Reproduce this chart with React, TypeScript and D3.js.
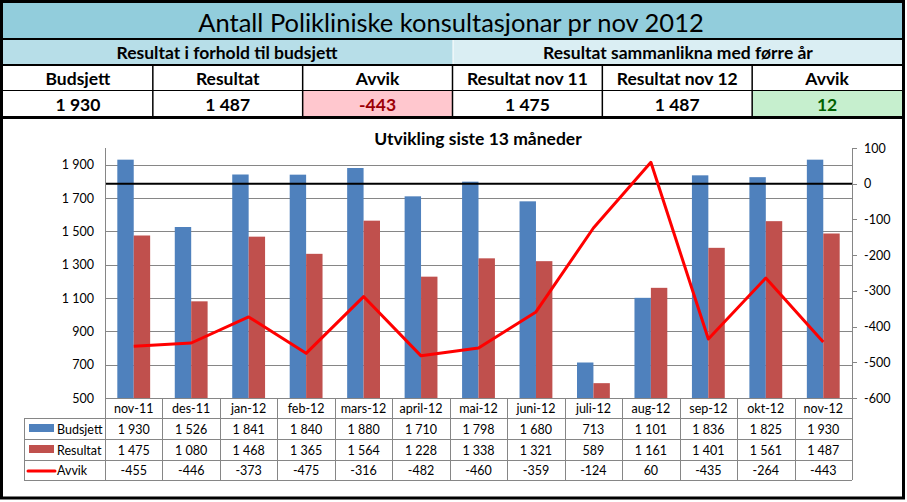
import * as d3 from 'd3'

const categories = ['nov-11', 'des-11', 'jan-12', 'feb-12', 'mars-12', 'april-12', 'mai-12', 'juni-12', 'juli-12', 'aug-12', 'sep-12', 'okt-12', 'nov-12']
const budsjett = [1930, 1526, 1841, 1840, 1880, 1710, 1798, 1680, 713, 1101, 1836, 1825, 1930]
const resultat = [1475, 1080, 1468, 1365, 1564, 1228, 1338, 1321, 589, 1161, 1401, 1561, 1487]
const avvik = [-455, -446, -373, -475, -316, -482, -460, -359, -124, 60, -435, -264, -443]
const leftTicks = [500, 700, 900, 1100, 1300, 1500, 1700, 1900]
const rightTicks = [100, 0, -100, -200, -300, -400, -500, -600]
const seriesNames = ['Budsjett', 'Resultat', 'Avvik']

const W = 907
const H = 502
const FONT = 'Lato, "Open Sans", sans-serif'
const BLUE = '#4F81BD'
const RED = '#C0504D'
const LINE = '#FF0000'
const GRID = '#868686'

const nb = d3.formatLocale({ decimal: ',', thousands: ' ', grouping: [3], currency: ['', ''], minus: '-' })
const fmt = nb.format(',d')

// plot geometry
const plotL = 105
const plotR = 852
const plotT = 148
const plotB = 398
const rowLines = [418, 439, 460, 480]

export default function App() {
  const x = d3.scaleBand<string>().domain(categories).range([plotL, plotR])
  const bw = x.bandwidth()
  const gap = (bw * 1.5) / 3.5
  const inner = d3.scaleBand<string>().domain(['Budsjett', 'Resultat']).range([gap / 2, bw - gap / 2])
  const yL = d3.scaleLinear().domain([500, 2000]).range([plotB, plotT])
  const yR = d3.scaleLinear().domain([-600, 100]).range([plotB, plotT])
  const cx = (i: number) => (x(categories[i]) ?? 0) + bw / 2

  const line = d3
    .line<number>()
    .x((_, i) => cx(i))
    .y((d) => yR(d))

  const last = categories.length - 1
  // summary table values
  const cols = ['Budsjett', 'Resultat', 'Avvik', 'Resultat nov 11', 'Resultat nov 12', 'Avvik']
  const vals = [budsjett[last], resultat[last], avvik[last], resultat[0], resultat[last], resultat[last] - resultat[0]]
  const colW = (902 - 3) / 6
  const colX = (i: number) => 3 + i * colW

  const crisp = (v: number) => Math.round(v) + 0.5

  return (
    <div style={{ position: 'absolute', left: 0, top: 0 }}>
      <svg width={W} height={H} style={{ display: 'block', background: '#fff' }} fontFamily={FONT}>
        {/* summary table */}
        <rect x={3} y={3} width={899} height={36} fill="#92CDDC" />
        <rect x={3} y={39} width={450} height={26} fill="#B7DEE8" />
        <rect x={453} y={39} width={449} height={26} fill="#DAEEF3" />
        <rect x={colX(2)} y={91} width={colW} height={25} fill="#FFC7CE" />
        <rect x={colX(5)} y={91} width={colW} height={25} fill="#C6EFCE" />
        <text x={451} y={22} textAnchor="middle" dominantBaseline="central" fontSize={25.5} fill="#000">
          Antall Polikliniske konsultasjonar pr nov 2012
        </text>
        <text x={227} y={52.5} textAnchor="middle" dominantBaseline="central" fontSize={17.5} fontWeight={700}>
          Resultat i forhold til budsjett
        </text>
        <text x={678} y={52.5} textAnchor="middle" dominantBaseline="central" fontSize={17.5} fontWeight={700}>
          Resultat sammanlikna med førre år
        </text>
        {cols.map((c, i) => (
          <text key={'h' + i} x={colX(i) + colW / 2} y={78.5} textAnchor="middle" dominantBaseline="central" fontSize={17.5} fontWeight={700}>
            {c}
          </text>
        ))}
        {vals.map((v, i) => (
          <text
            key={'v' + i}
            x={colX(i) + colW / 2}
            y={104}
            textAnchor="middle"
            dominantBaseline="central"
            fontSize={17.5}
            fontWeight={700}
            fill={i === 2 ? '#9C0006' : i === 5 ? '#006100' : '#000'}
          >
            {fmt(v)}
          </text>
        ))}
        <g stroke="#000" fill="none">
          <line x1={3} x2={902} y1={39} y2={39} strokeWidth={2} />
          <line x1={3} x2={902} y1={65} y2={65} strokeWidth={2} />
          <line x1={3} x2={902} y1={90.5} y2={90.5} strokeWidth={1} />
          {d3.range(1, 6).map((i) => (
            <line key={i} x1={colX(i)} x2={colX(i)} y1={65} y2={116} strokeWidth={1.5} />
          ))}
          <line x1={3} x2={902} y1={117.5} y2={117.5} strokeWidth={3} />
        </g>
        <line x1={453} x2={453} y1={40} y2={64} stroke="#fff" strokeWidth={1} />

        {/* chart title */}
        <text x={478} y={138} textAnchor="middle" dominantBaseline="central" fontSize={17.5} fontWeight={700}>
          Utvikling siste 13 måneder
        </text>

        {/* gridlines */}
        <g stroke={GRID} strokeWidth={1}>
          {leftTicks.slice(1).map((t) => (
            <line key={t} x1={plotL} x2={plotR} y1={crisp(yL(t))} y2={crisp(yL(t))} />
          ))}
        </g>

        {/* bars */}
        {categories.map((c, i) => (
          <g key={c} transform={`translate(${x(c)},0)`}>
            <rect x={inner('Budsjett')} y={yL(budsjett[i])} width={inner.bandwidth()} height={plotB - yL(budsjett[i])} fill={BLUE} />
            <rect x={inner('Resultat')} y={yL(resultat[i])} width={inner.bandwidth()} height={plotB - yL(resultat[i])} fill={RED} />
          </g>
        ))}

        {/* zero line of secondary axis */}
        <line x1={plotL} x2={plotR} y1={yR(0)} y2={yR(0)} stroke="#000" strokeWidth={2} />

        {/* avvik line */}
        <path d={line(avvik) ?? ''} fill="none" stroke={LINE} strokeWidth={3} strokeLinejoin="round" />

        {/* left axis labels */}
        {leftTicks.map((t) => (
          <text key={t} x={94} y={yL(t)} textAnchor="end" dominantBaseline="central" fontSize={12.5} fill="#000">
            {fmt(t)}
          </text>
        ))}

        {/* right axis */}
        <g stroke={GRID}>
          {rightTicks.map((t) => (
            <line key={t} x1={plotR} x2={plotR + 5} y1={crisp(yR(t))} y2={crisp(yR(t))} />
          ))}
        </g>
        {rightTicks.map((t) => (
          <text key={t} x={864} y={yR(t)} dominantBaseline="central" fontSize={12.5} fill="#000">
            {fmt(t)}
          </text>
        ))}

        {/* data table */}
        <g stroke={GRID} strokeWidth={1}>
          <line x1={crisp(plotL)} x2={crisp(plotL)} y1={plotT} y2={rowLines[3]} />
          <line x1={crisp(plotR)} x2={crisp(plotR)} y1={plotT} y2={rowLines[3]} />
          <line x1={plotL} x2={plotR} y1={crisp(plotB)} y2={crisp(plotB)} />
          {categories.slice(1).map((c) => (
            <line key={c} x1={crisp(x(c) ?? 0)} x2={crisp(x(c) ?? 0)} y1={plotB} y2={rowLines[3]} />
          ))}
          {rowLines.map((r) => (
            <line key={r} x1={24} x2={plotR} y1={crisp(r)} y2={crisp(r)} />
          ))}
          <line x1={24.5} x2={24.5} y1={rowLines[0]} y2={rowLines[3]} />
        </g>
        {categories.map((c, i) => (
          <text key={c} x={cx(i)} y={408.5} textAnchor="middle" dominantBaseline="central" fontSize={12.5}>
            {c}
          </text>
        ))}
        {[budsjett, resultat, avvik].map((arr, r) =>
          arr.map((v, i) => (
            <text
              key={r + '-' + i}
              x={cx(i)}
              y={(rowLines[r] + rowLines[r + 1]) / 2 + 0.5}
              textAnchor="middle"
              dominantBaseline="central"
              fontSize={12.5}
            >
              {fmt(v)}
            </text>
          ))
        )}
        {/* legend keys */}
        <rect x={29} y={424} width={25} height={8} fill={BLUE} />
        <rect x={29} y={445} width={25} height={8} fill={RED} />
        <line x1={28} x2={55} y1={471} y2={471} stroke={LINE} strokeWidth={3} strokeLinecap="round" />
        {seriesNames.map((s, r) => (
          <text key={s} x={57} y={(rowLines[r] + rowLines[r + 1]) / 2 + 0.5} dominantBaseline="central" fontSize={12.5}>
            {s}
          </text>
        ))}

        {/* outer frame */}
        <path d="M1.5,1.5 H903.5 V498 H1.5 Z" fill="none" stroke="#000" strokeWidth={3} />
      </svg>
    </div>
  )
}
